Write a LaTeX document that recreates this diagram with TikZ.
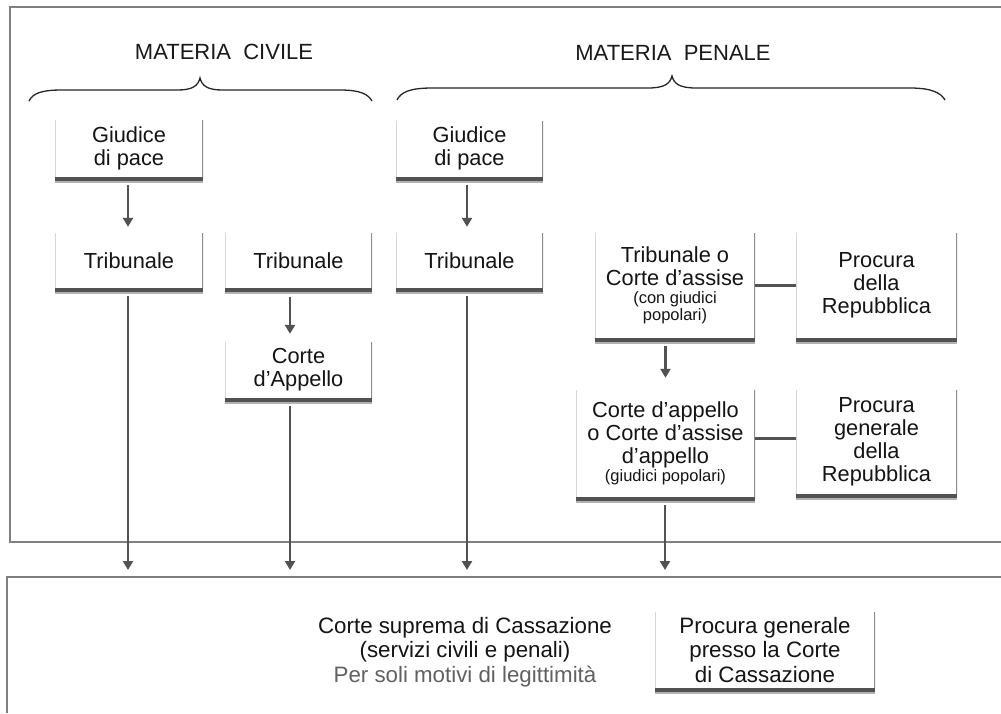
\documentclass[tikz,border=0pt]{standalone}
\usepackage{fontspec}
\setmainfont{Liberation Sans}
\usetikzlibrary{arrows.meta,shadows}
\begin{document}
\begin{tikzpicture}[x=1pt,y=-1pt,
  box/.style={fill=white, align=center, inner sep=0pt, text=black!92,
    font=\fontsize{21.8}{23}\selectfont,
    drop shadow={shadow xshift=0pt, shadow yshift=-6pt, fill=black!30, opacity=1},
    drop shadow={shadow xshift=0pt, shadow yshift=-4pt, fill=black!68, opacity=1},
    path picture={
      \draw[black!16, line width=1.4pt] (path picture bounding box.north west) -- (path picture bounding box.south west);
      \draw[black!45, line width=2pt] (path picture bounding box.north east) -- (path picture bounding box.south east);}},
  frame/.style={draw=black!50, line width=1.5pt},
  arr/.style={draw=black!68, line width=2.4pt, -{Triangle[width=10pt,length=9pt]}},
  link/.style={draw=black!68, line width=2.4pt},
  brace/.style={draw=black!85, line width=1.3pt},
  title/.style={font=\fontsize{22}{24}\selectfont, text=black!90, anchor=base}]
\useasboundingbox (0,0) rectangle (1001,713);
\fill[white] (0,0) rectangle (1001,713);
% frames
\draw[frame] (1001,7) -- (10,7) -- (10,542) -- (1001,542);
\draw[frame] (1001,577) -- (7,577) -- (7,713);
% titles
\node[title] (tciv) at (224,59) {MATERIA\ \ CIVILE};
\node[title] (tpen) at (673,60) {MATERIA\ \ PENALE};
% braces
\draw[brace] (29,101) .. controls (33,93) and (42,90) .. (62,90) -- (178,90)
  .. controls (192,90) and (198,86) .. (200,78)
  .. controls (202,86) and (208,90) .. (222,90) -- (340,90)
  .. controls (360,90) and (368,94) .. (372,101);
\draw[brace] (397,100) .. controls (401,92) and (410,88) .. (432,88) -- (648,88)
  .. controls (664,88) and (670,84) .. (672,76)
  .. controls (674,84) and (680,88) .. (696,88) -- (910,88)
  .. controls (932,88) and (941,93) .. (945,100);
% civil
\node[box, minimum width=148pt, minimum height=57pt] (cgdp) at (129,148.5) {Giudice\\di pace};
\node[box, minimum width=148pt, minimum height=55pt] (ctr1) at (129,260.5) {Tribunale};
\node[box, minimum width=147pt, minimum height=55pt] (ctr2) at (298.5,260.5) {Tribunale};
\node[box, minimum width=147pt, minimum height=56pt] (capp) at (298.5,370) {Corte\\d’Appello};
% penal
\node[box, minimum width=147pt, minimum height=56pt] (pgdp) at (469.5,148.5) {Giudice\\di pace};
\node[box, minimum width=147pt, minimum height=55pt] (ptr) at (469.5,260.5) {Tribunale};
\node[box, minimum width=160pt, minimum height=105pt] (pta) at (675,285.5)
  {Tribunale o\\Corte d’assise\\[-5pt]{\fontsize{16.5}{18}\selectfont(con giudici}\\[-6pt]{\fontsize{16.5}{18}\selectfont popolari)}};
\node[box, minimum width=161pt, minimum height=105pt] (proc1) at (876.5,285.5) {Procura\\della\\Repubblica};
\node[box, minimum width=179pt, minimum height=107pt] (pca) at (665.5,443.5)
  {Corte d’appello\\o Corte d’assise\\d’appello\\[-5pt]{\fontsize{16.5}{18}\selectfont(giudici popolari)}};
\node[box, minimum width=161pt, minimum height=104pt] (proc2) at (876.5,442) {Procura\\generale\\della\\Repubblica};
% bottom
\node[align=center, text=black!92, font=\fontsize{22.3}{24.5}\selectfont] (cass) at (465,652)
  {Corte suprema di Cassazione\\(servizi civili e penali)\\\textcolor{black!62}{Per soli motivi di legittimità}};
\node[box, font=\fontsize{22.3}{24.5}\selectfont, minimum width=220pt, minimum height=76pt] (procc) at (765,650) {Procura generale\\presso la Corte\\di Cassazione};
\coordinate (e1) at (128,570);
\coordinate (e2) at (290,570);
\coordinate (e3) at (467,570);
\coordinate (e4) at (665,570);
% arrows
\draw[arr, shorten <=8pt, shorten >=6pt] (cgdp.south -| e1) -- (ctr1.north -| e1);
\draw[arr, shorten <=8pt, shorten >=6pt] (pgdp.south -| e3) -- (ptr.north -| e3);
\draw[arr, shorten <=9pt, shorten >=8pt] (ctr2.south -| e2) -- (capp.north -| e2);
\draw[arr, shorten <=8pt, shorten >=12pt] (pta.south -| pca.north) -- (pca.north);
\draw[arr, shorten <=8pt] (ctr1.south -| e1) -- (e1);
\draw[arr, shorten <=8pt] (capp.south -| e2) -- (e2);
\draw[arr, shorten <=8pt] (ptr.south -| e3) -- (e3);
\draw[arr, shorten <=8pt] (pca.south -| e4) -- (e4);
% links
\draw[link] (pta.east) -- (proc1.west);
\draw[link] ([yshift=5pt]pca.east) -- ([yshift=5pt]pca.east -| proc2.west);
\end{tikzpicture}
\end{document}
